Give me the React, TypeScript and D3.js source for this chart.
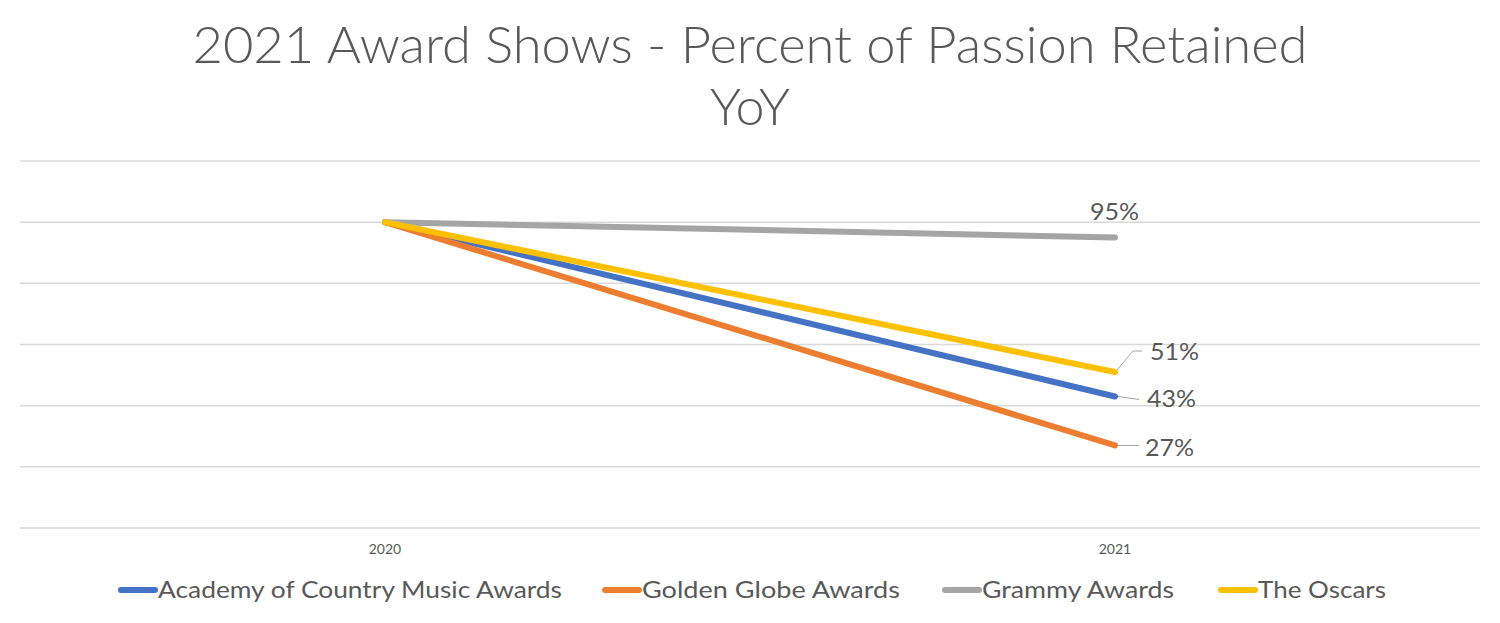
import * as d3 from "d3";
import { useEffect, useRef } from "react";

const years = ["2020", "2021"];
const seriesNames = [
  "Academy of Country Music Awards",
  "Golden Globe Awards",
  "Grammy Awards",
  "The Oscars",
];
const academyValues = [100, 43];
const goldenGlobeValues = [100, 27];
const grammyValues = [100, 95];
const oscarsValues = [100, 51];
const colors = ["#4472C4", "#ED7D31", "#A5A5A5", "#FFC000"];
const yTicks = [0, 20, 40, 60, 80, 100, 120];

export default function App() {
  const svgRef = useRef<SVGSVGElement>(null);

  useEffect(() => {
    if (!svgRef.current) return;
    const font = "Lato, 'Open Sans', sans-serif";
    const textColor = "#595959";

    const svg = d3.select(svgRef.current);
    svg.selectAll("*").remove();

    const series = [academyValues, goldenGlobeValues, grammyValues, oscarsValues].map((values, i) => ({
      name: seriesNames[i],
      color: colors[i],
      values,
    }));

    const x = d3.scaleBand().domain(years).range([20, 1480]);
    const y = d3.scaleLinear().domain([0, 120]).range([528, 161]);

    // Title
    const title = svg
      .append("text")
      .attr("text-anchor", "middle")
      .attr("fill", textColor)
      .attr("font-family", font)
      .attr("font-weight", 300)
      .attr("font-size", "51px");
    title
      .append("tspan")
      .attr("x", 750)
      .attr("y", 63)
      .attr("textLength", 1115)
      .attr("lengthAdjust", "spacingAndGlyphs")
      .text("2021 Award Shows - Percent of Passion Retained");
    title
      .append("tspan")
      .attr("x", 750)
      .attr("y", 125)
      .attr("textLength", 80)
      .attr("lengthAdjust", "spacingAndGlyphs")
      .text("YoY");

    // Grid lines
    svg
      .append("g")
      .selectAll("line")
      .data(yTicks)
      .enter()
      .append("line")
      .attr("x1", 20)
      .attr("x2", 1480)
      .attr("y1", (d) => y(d))
      .attr("y2", (d) => y(d))
      .attr("stroke", "#D9D9D9")
      .attr("stroke-width", 1.5);

    // X axis labels
    svg
      .append("g")
      .selectAll("text")
      .data(years)
      .enter()
      .append("text")
      .attr("x", (d) => (x(d) || 0) + x.bandwidth() / 2)
      .attr("y", 554)
      .attr("text-anchor", "middle")
      .attr("fill", textColor)
      .attr("font-family", font)
      .attr("font-size", "14px")
      .text((d) => d);

    // Lines
    const line = d3
      .line<number>()
      .x((_, i) => (x(years[i]) || 0) + x.bandwidth() / 2)
      .y((d) => y(d));

    svg
      .append("g")
      .selectAll("path")
      .data(series)
      .enter()
      .append("path")
      .attr("d", (d) => line(d.values))
      .attr("fill", "none")
      .attr("stroke", (d) => d.color)
      .attr("stroke-width", 6)
      .attr("stroke-linecap", "round")
      .attr("stroke-linejoin", "round");

    // Data labels for 2021
    const lastX = (x("2021") || 0) + x.bandwidth() / 2;
    const labels = [
      { v: academyValues[1], dx: 32, dy: 11, leader: [[3, 0], [24, 3]] },
      { v: goldenGlobeValues[1], dx: 30, dy: 11, leader: [[3, 0], [24, 0]] },
      { v: grammyValues[1], dx: -25, dy: -17, leader: null },
      { v: oscarsValues[1], dx: 35, dy: -12, leader: [[2, -2], [18, -21], [27, -21]] },
    ];
    labels.forEach((l) => {
      const py = y(l.v);
      if (l.leader) {
        svg
          .append("path")
          .attr("d", d3.line()(l.leader.map(([a, b]) => [lastX + a, py + b]) as [number, number][]))
          .attr("fill", "none")
          .attr("stroke", "#A6A6A6")
          .attr("stroke-width", 1);
      }
      svg
        .append("text")
        .attr("x", lastX + l.dx)
        .attr("y", py + l.dy)
        .attr("fill", textColor)
        .attr("font-family", font)
        .attr("font-size", "24px")
        .attr("textLength", 49)
        .attr("lengthAdjust", "spacingAndGlyphs")
        .text(`${l.v}%`);
    });

    // Legend
    const legendX = [118, 602, 942, 1218];
    const legendW = [404, 258, 192, 128];
    const legend = svg
      .append("g")
      .selectAll("g")
      .data(series)
      .enter()
      .append("g")
      .attr("transform", (_, i) => `translate(${legendX[i]},590)`);
    legend
      .append("line")
      .attr("x1", 3)
      .attr("x2", 37)
      .attr("y1", 0)
      .attr("y2", 0)
      .attr("stroke", (d) => d.color)
      .attr("stroke-width", 6)
      .attr("stroke-linecap", "round");
    legend
      .append("text")
      .attr("x", 40)
      .attr("y", 8)
      .attr("fill", textColor)
      .attr("font-family", font)
      .attr("font-size", "24px")
      .attr("textLength", (_, i) => legendW[i])
      .attr("lengthAdjust", "spacingAndGlyphs")
      .text((d) => d.name);
  }, []);

  return (
    <svg
      ref={svgRef}
      width={1500}
      height={623}
      style={{ position: "absolute", left: 0, top: 0, background: "#fff" }}
    />
  );
}
